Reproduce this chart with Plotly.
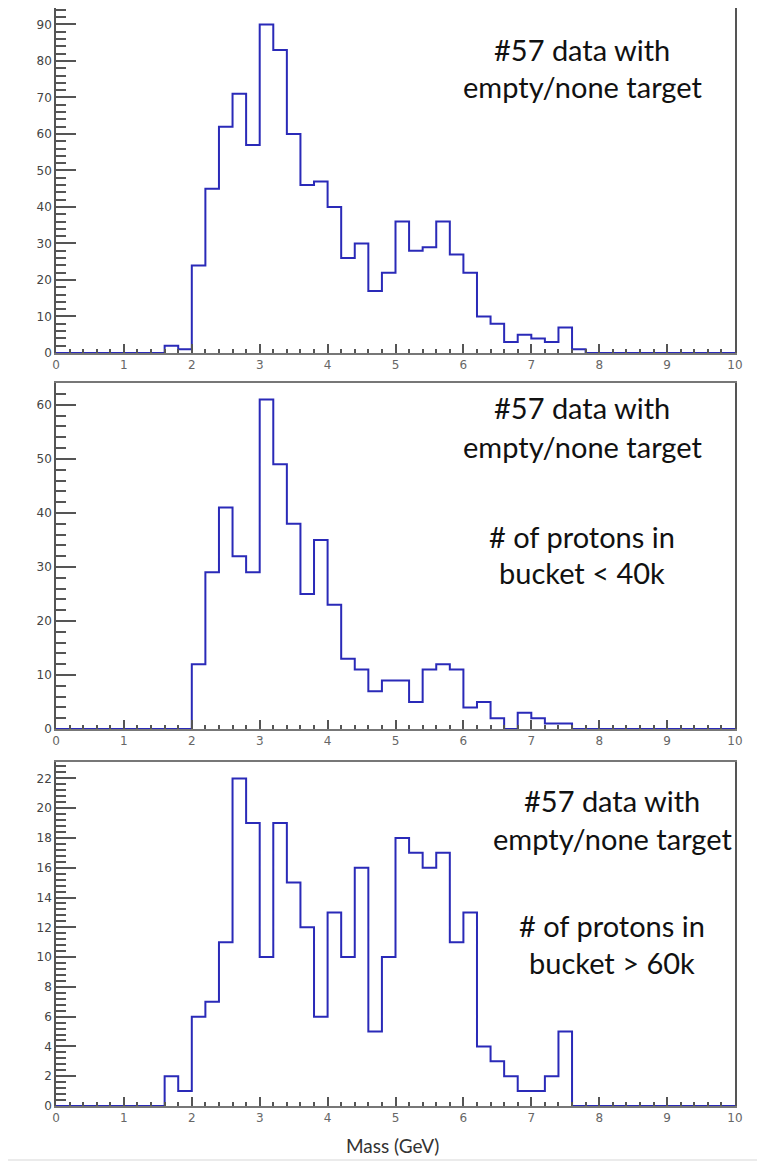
import numpy as np
import plotly.graph_objects as go

# bin edges: 50 bins of 0.2 GeV from 0 to 10
bin_edges = np.round(np.arange(0, 10.0001, 0.2), 2)

# counts per bin
counts_all = [0, 0, 0, 0, 0, 0, 0, 0, 2, 1,
              24, 45, 62, 71, 57, 90, 83, 60, 46, 47,
              40, 26, 30, 17, 22, 36, 28, 29, 36, 27,
              22, 10, 8, 3, 5, 4, 3, 7, 1, 0,
              0, 0, 0, 0, 0, 0, 0, 0, 0, 0]

counts_low = [0, 0, 0, 0, 0, 0, 0, 0, 0, 0,
              12, 29, 41, 32, 29, 61, 49, 38, 25, 35,
              23, 13, 11, 7, 9, 9, 5, 11, 12, 11,
              4, 5, 2, 0, 3, 2, 1, 1, 0, 0,
              0, 0, 0, 0, 0, 0, 0, 0, 0, 0]

counts_high = [0, 0, 0, 0, 0, 0, 0, 0, 2, 1,
               6, 7, 11, 22, 19, 10, 19, 15, 12, 6,
               13, 10, 16, 5, 10, 18, 17, 16, 17, 11,
               13, 4, 3, 2, 1, 1, 2, 5, 0, 0,
               0, 0, 0, 0, 0, 0, 0, 0, 0, 0]

panel_labels = [
    ["#57 data with", "empty/none target"],
    ["#57 data with", "empty/none target", "", "# of protons in", "bucket < 40k"],
    ["#57 data with", "empty/none target", "", "# of protons in", "bucket > 60k"],
]
x_title = "Mass (GeV)"

# the page body has an 8px margin, so the figure is drawn 8px in from the corner
OFF = 8
W, H = 765 - OFF, 1162 - OFF
LINE = "#2a2ab8"

# page-pixel boxes of the three frames (top, bottom)
frames = [(8, 353), (383, 729), (762, 1106)]
x0_px, x1_px = 56, 735
y_major = [10, 10, 2]
y_minor = [2, 2, 0.4]
# label centres in page pixels
label_x = [582, 582, 612]
label_y = [[49, 87], [408, 446, 0, 536, 572], [800, 838, 0, 926, 962]]


def px_x(p):
    return min(max((p - OFF) / W, 0), 1)


def px_y(p):
    return min(max(1 - (p - OFF) / H, 0), 1)


fig = go.Figure()
all_counts = [counts_all, counts_low, counts_high]

for i, c in enumerate(all_counts):
    n = "" if i == 0 else str(i + 1)
    y_step = list(c) + [c[-1]]
    fig.add_trace(go.Scatter(
        x=bin_edges, y=y_step, mode="lines",
        line=dict(color=LINE, width=2, shape="hv"),
        xaxis="x" + n, yaxis="y" + n, showlegend=False, hoverinfo="skip"
    ))
    top, bot = frames[i]
    ymax = 1.05 * max(c)
    fig.update_layout(**{
        "xaxis" + n: dict(
            domain=[px_x(x0_px), px_x(x1_px)], anchor="y" + n,
            range=[0, 10], dtick=1, tick0=0, automargin=False,
            ticks="inside", ticklen=9, tickwidth=1.5, tickcolor="#555",
            minor=dict(ticks="inside", ticklen=4, dtick=0.2, tickwidth=1.5, tickcolor="#555"),
            showline=True, linecolor="#777", linewidth=1.5, mirror=True,
            showgrid=False, zeroline=False,
            tickfont=dict(family="DejaVu Sans, Arial", size=12, color="#666"),
        ),
        "yaxis" + n: dict(
            domain=[px_y(bot), px_y(top)], anchor="x" + n,
            range=[0, ymax], dtick=y_major[i], tick0=0, automargin=False,
            ticks="inside", ticklen=20, tickwidth=1.5, tickcolor="#555",
            minor=dict(ticks="inside", ticklen=10, dtick=y_minor[i], tickwidth=1.5, tickcolor="#555"),
            showline=True, linecolor="#555", linewidth=1.5, mirror=True,
            showgrid=False, zeroline=False,
            tickfont=dict(family="DejaVu Sans, Arial", size=12, color="#444"),
        ),
    })
    for txt, yp in zip(panel_labels[i], label_y[i]):
        if not txt:
            continue
        fig.add_annotation(
            text=txt, xref="paper", yref="paper",
            x=px_x(label_x[i]), y=px_y(yp), xanchor="center", yanchor="middle",
            showarrow=False,
            font=dict(family="Lato, Open Sans, sans-serif", size=29, color="#111"),
        )

fig.add_annotation(
    text=x_title, xref="paper", yref="paper",
    x=px_x(392), y=px_y(1145), xanchor="center", yanchor="middle",
    showarrow=False,
    font=dict(family="Lato, Open Sans, sans-serif", size=19, color="#333"),
)

fig.add_shape(type="line", xref="paper", yref="paper",
              x0=0, x1=1, y0=px_y(1160), y1=px_y(1160),
              line=dict(color="#e4e4e4", width=1.5))

fig.update_layout(
    width=W, height=H, autosize=False,
    margin=dict(l=0, r=0, t=0, b=0),
    paper_bgcolor="white", plot_bgcolor="white",
)

fig.write_html("out.html")
